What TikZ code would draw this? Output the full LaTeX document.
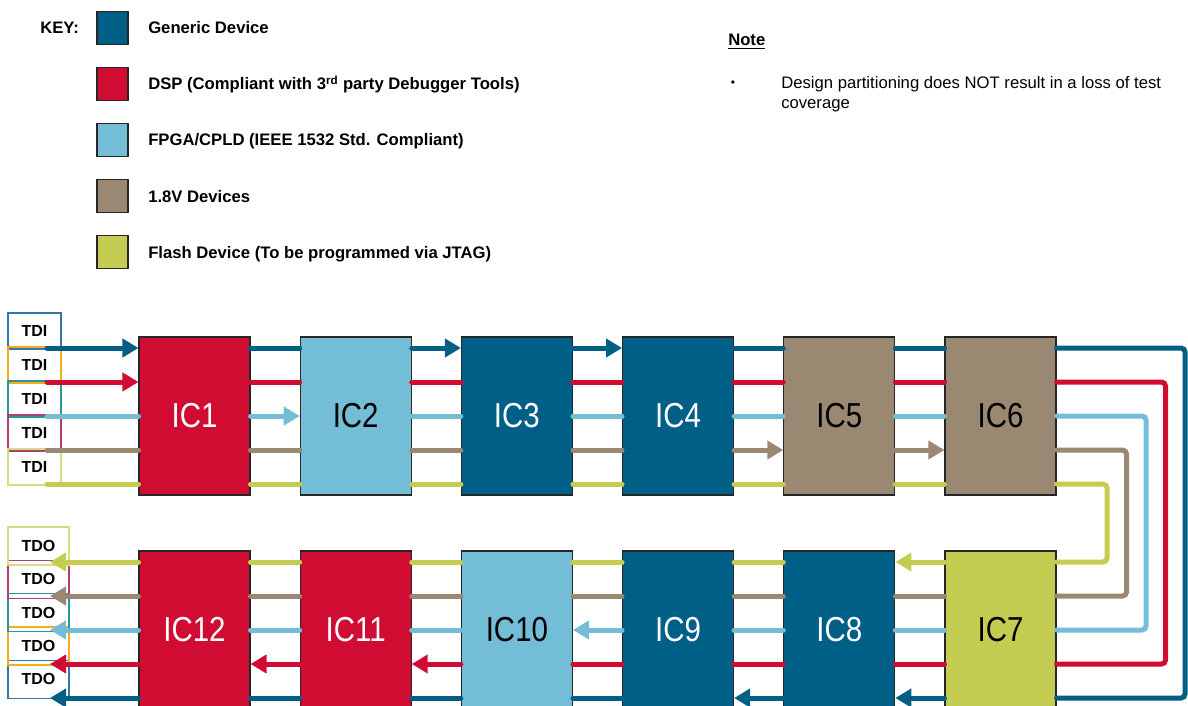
\documentclass[tikz,border=0pt]{standalone}
\usepackage{fontspec}
\setmainfont{Liberation Sans}
\newfontfamily\icfont[FakeStretch=0.85]{Liberation Sans}
\usetikzlibrary{arrows.meta}

\definecolor{genblue}{RGB}{0,95,135}
\definecolor{dspred}{RGB}{208,12,51}
\definecolor{fpgablue}{RGB}{116,189,214}
\definecolor{lowtaupe}{RGB}{154,136,115}
\definecolor{flashgreen}{RGB}{196,204,82}
\definecolor{pinblue}{RGB}{50,120,165}
\definecolor{pinorange}{RGB}{250,170,30}
\definecolor{pinteal}{RGB}{40,150,150}
\definecolor{pinplum}{RGB}{176,60,120}
\definecolor{pinlime}{RGB}{214,220,130}
% wire colours, top to bottom in the upper row
\colorlet{w1}{genblue}
\colorlet{w2}{dspred}
\colorlet{w3}{fpgablue}
\colorlet{w4}{lowtaupe}
\colorlet{w5}{flashgreen}

\begin{document}
\begin{tikzpicture}[x=0.75pt,y=-0.75pt,
  icbox/.style={draw=black!85, line width=0.8pt, minimum width=83.25pt, minimum height=118.5pt, inner sep=0pt, font=\icfont\fontsize{26}{28}\selectfont},
  pinbox/.style={draw=#1, line width=0.9pt, inner sep=0pt, font=\bfseries\fontsize{12}{14}\selectfont},
  keybox/.style={draw=black!85, line width=0.8pt, minimum width=23.25pt, minimum height=24.75pt, inner sep=0pt},
  keytext/.style={anchor=base west, inner sep=0pt, font=\bfseries\fontsize{12.5}{15}\selectfont},
  wire/.style={draw=#1, line width=3.75pt, line cap=round},
  withhead/.style={-{Triangle[length=12pt,width=13.5pt]}},
  nohead/.style={}]
\useasboundingbox (0,0) rectangle (1188,706);

% key
\node[keytext] (keytitle) at (40,34) {KEY:};
\foreach \j/\c/\txt in {1/genblue/Generic Device,
    2/dspred/{DSP (Compliant with 3\textsuperscript{rd} party Debugger Tools)},
    3/fpgablue/{FPGA/CPLD (IEEE 1532 Std. Compliant)},
    4/lowtaupe/1.8V Devices,
    5/flashgreen/{Flash Device (To be programmed via JTAG)}}{
  \node[keybox, fill=\c] (key\j) at (112.5,{28+(\j-1)*56}) {};
  \node[keytext] (keylbl\j) at (148,{34+(\j-1)*56}) {\txt};
}

% note
\node[anchor=base west, inner sep=0pt, font=\bfseries\fontsize{12.5}{15}\selectfont] (notehead) at (728,46) {\underline{Note}};
\node[inner sep=0pt, font=\fontsize{9}{10}\selectfont] (bullet) at (733,84) {•};
\node[anchor=north west, align=left, inner sep=0pt, font=\fontsize{12.5}{15}\selectfont] (notetext) at (781,76)
  {Design partitioning does NOT result in a loss of test\\coverage};

% scan chain ends
\foreach \k/\c in {1/pinblue,2/pinorange,3/pinteal,4/pinplum,5/pinlime}{
  \node[pinbox=\c, minimum width=39.75pt, minimum height=27pt] (tdi\k) at (34.5,{331+(\k-1)*34}) {TDI};
  \node[pinbox=\c, minimum width=45.75pt, minimum height=28.5pt] (tdo\k) at (38.5,{546+(5-\k)*33.3}) {TDO};
  \coordinate (tdi-out\k) at (47,{416+(\k-3)*34});
  \coordinate (tdo-in\k) at (50,{630+(3-\k)*34});
}

% devices
\foreach \i/\x/\y/\c/\t in {1/194.5/416/dspred/white, 2/355.7/416/fpgablue/black,
    3/516.9/416/genblue/white, 4/678.1/416/genblue/white,
    5/839.3/416/lowtaupe/black, 6/1000.5/416/lowtaupe/black,
    7/1000.5/630/flashgreen/black, 8/839.3/630/genblue/white,
    9/678.1/630/genblue/white, 10/516.9/630/fpgablue/black,
    11/355.7/630/dspred/white, 12/194.5/630/dspred/white}
  \node[icbox, fill=\c, text=\t] (ic\i) at (\x,\y) {IC\i};

% pins: upper row runs left to right, lower row right to left
\foreach \i in {1,...,6} \foreach \k in {1,...,5}{
  \coordinate (ic\i-in\k) at ([yshift={(3-\k)*25.5pt}]ic\i.west);
  \coordinate (ic\i-out\k) at ([yshift={(3-\k)*25.5pt}]ic\i.east);
}
\foreach \i in {7,...,12} \foreach \k in {1,...,5}{
  \coordinate (ic\i-in\k) at ([yshift={(\k-3)*25.5pt}]ic\i.east);
  \coordinate (ic\i-out\k) at ([yshift={(\k-3)*25.5pt}]ic\i.west);
}

% wires, arrow mask: bit k-1 set = arrow on colour k
\foreach \a/\b/\m in {tdi/ic1/3, ic1/ic2/4, ic2/ic3/1, ic3/ic4/1,
    ic4/ic5/8, ic5/ic6/8, ic7/ic8/17, ic8/ic9/1,
    ic9/ic10/4, ic10/ic11/2, ic11/ic12/2, ic12/tdo/31}
  \foreach \k in {1,...,5}{
    \pgfmathtruncatemacro\d{mod(floor(\m/2^(\k-1)),2)}
    \ifnum\d=1 \def\tip{withhead}\else\def\tip{nohead}\fi
    \draw[wire=w\k,\tip] (\a-out\k) -- (\b-in\k);
  }

% loop back from IC6 to IC7
\foreach \k in {1,...,5}{
  \coordinate (back\k) at ({1185-(\k-1)*19.5},523);
  \draw[wire=w\k, rounded corners=3pt] (ic6-out\k) -| (back\k) |- (ic7-in\k);
}
\end{tikzpicture}
\end{document}
